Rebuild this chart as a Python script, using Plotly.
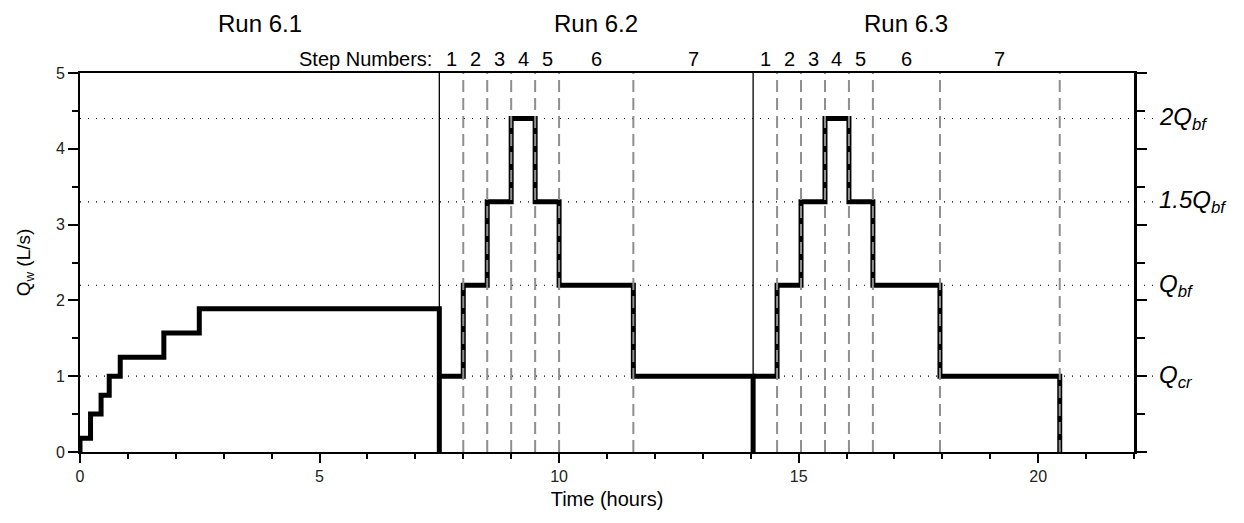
import plotly.graph_objects as go

# ---------------- data ----------------
run61_start = [0.0, 0.22, 0.44, 0.61, 0.84, 1.75, 2.49]
run61_q = [0.18, 0.50, 0.75, 1.00, 1.25, 1.57, 1.89]
run61_end = 7.5

run62_bounds = [7.5, 8.0, 8.5, 9.0, 9.5, 10.0, 11.55, 14.05]
run63_bounds = [14.05, 14.55, 15.05, 15.55, 16.05, 16.55, 17.95, 20.45]
step_q = [1.0, 2.2, 3.3, 4.4, 3.3, 2.2, 1.0]
step_numbers = ["1", "2", "3", "4", "5", "6", "7"]

ref_levels = [1.0, 2.2, 3.3, 4.4]
ref_labels = ["Q<sub>cr</sub>", "Q<sub>bf</sub>", "1.5Q<sub>bf</sub>", "2Q<sub>bf</sub>"]

run_titles = ["Run 6.1", "Run 6.2", "Run 6.3"]
run_centers = [3.75, 10.78, 17.25]

x_ticks = [0, 5, 10, 15, 20]
y_ticks = [0, 1, 2, 3, 4, 5]

FONT = "Arial, Liberation Sans, sans-serif"
fig = go.Figure()

def run_xy(starts, qs, end):
    x = list(starts) + [end, end]
    y = list(qs) + [qs[-1], 0]
    return x, y

# solid run separators
sep_x, sep_y = [], []
for b in [run62_bounds[0], run63_bounds[0]]:
    sep_x += [b, b, None]
    sep_y += [0, 5, None]
fig.add_trace(go.Scatter(x=sep_x, y=sep_y, mode="lines",
                         line=dict(color="black", width=1.3),
                         hoverinfo="skip", showlegend=False))

# run 6.1
x1, y1 = run_xy(run61_start, run61_q, run61_end)
x1 = [0.0] + x1
y1 = [0.0] + y1
fig.add_trace(go.Scatter(x=x1, y=y1, mode="lines", line=dict(color="black", width=5, shape="hv"),
                         hoverinfo="skip", showlegend=False))
# runs 6.2, 6.3
for bounds in [run62_bounds, run63_bounds]:
    xr, yr = run_xy(bounds[:-1], step_q, bounds[-1])
    fig.add_trace(go.Scatter(x=xr, y=yr, mode="lines", line=dict(color="black", width=5, shape="hv"),
                             hoverinfo="skip", showlegend=False))

# dashed step boundaries
dash_vals = run62_bounds[1:-1] + run63_bounds[1:]
dx, dy = [], []
for b in dash_vals:
    dx += [b, b, None]
    dy += [0, 5, None]
fig.add_trace(go.Scatter(x=dx, y=dy, mode="lines",
                         line=dict(color="#8f8f8f", width=2, dash="12px,6px"),
                         hoverinfo="skip", showlegend=False))

# dummy for right axis
fig.add_trace(go.Scatter(x=[None], y=[None], yaxis="y2", mode="lines", showlegend=False, hoverinfo="skip"))

# dotted reference lines + labels
for lvl, lab in zip(ref_levels, ref_labels):
    fig.add_shape(type="line", xref="paper", yref="y", x0=0, x1=1.021, y0=lvl, y1=lvl,
                  line=dict(color="black", width=1.2, dash="1px,7px"), layer="below")
    fig.add_annotation(x=1.022, xref="paper", y=lvl, yref="y", text=lab, showarrow=False,
                       xanchor="left", yanchor="middle",
                       font=dict(family=FONT, size=24, color="black", style="italic"))

# run titles
for t, c in zip(run_titles, run_centers):
    fig.add_annotation(x=c, xref="x", y=1.13, yref="paper", text=t, showarrow=False,
                       xanchor="center", yanchor="middle", font=dict(family=FONT, size=24, color="black"))

# step numbers
fig.add_annotation(x=7.38, xref="x", y=1.037, yref="paper", text="Step Numbers:", showarrow=False,
                   xanchor="right", yanchor="middle", font=dict(family=FONT, size=20, color="black"))
for bounds in [run62_bounds, run63_bounds]:
    for i, s in enumerate(step_numbers):
        mid = (bounds[i] + bounds[i + 1]) / 2
        fig.add_annotation(x=mid, xref="x", y=1.037, yref="paper", text=s, showarrow=False,
                           xanchor="center", yanchor="middle", font=dict(family=FONT, size=20, color="black"))

fig.update_layout(
    width=1244, height=523,
    margin=dict(l=79.5, r=110, t=73, b=71),
    paper_bgcolor="white", plot_bgcolor="white",
    font=dict(family=FONT, color="black"),
    xaxis=dict(range=[0, 22], tickvals=x_ticks, ticks="outside", ticklen=9, tickwidth=2,
               tickcolor="black", showline=True, linewidth=2, linecolor="black", mirror=True,
               showgrid=False, zeroline=False,
               minor=dict(dtick=1, ticks="outside", ticklen=5, tickwidth=2, tickcolor="black"),
               tickfont=dict(family=FONT, size=16, color="#222"),
               title=dict(text="Time (hours)", font=dict(family=FONT, size=20, color="black"), standoff=8)),
    yaxis=dict(range=[0, 5], tickvals=y_ticks, ticks="outside", ticklen=10, tickwidth=2,
               tickcolor="black", showline=True, linewidth=2, linecolor="black",
               showgrid=False, zeroline=False,
               minor=dict(dtick=0.5, ticks="outside", ticklen=6, tickwidth=2, tickcolor="black"),
               tickfont=dict(family=FONT, size=16, color="#222"),
               title=dict(text="Q<sub>w</sub> (L/s)", font=dict(family=FONT, size=19, color="black"), standoff=20)),
    yaxis2=dict(range=[0, 5], overlaying="y", side="right", tickvals=y_ticks, ticks="outside",
                ticklen=10, tickwidth=2, tickcolor="black", showline=True, linewidth=2.5,
                linecolor="black", showgrid=False, zeroline=False, showticklabels=False,
                minor=dict(dtick=0.5, ticks="outside", ticklen=8, tickwidth=2, tickcolor="black")),
)

fig.write_html("out.html")
